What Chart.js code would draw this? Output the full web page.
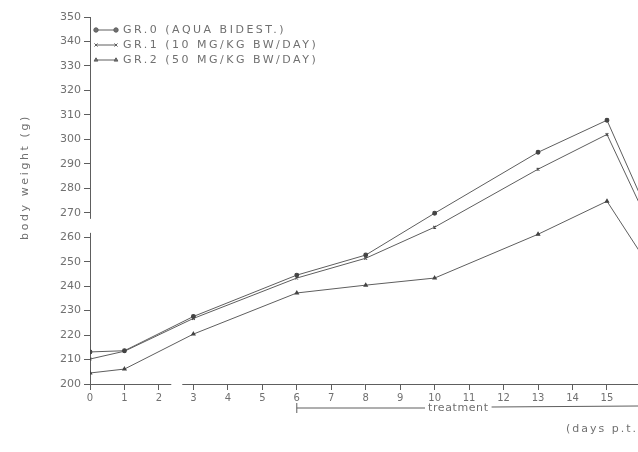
<!DOCTYPE html>
<html>
<head>
<meta charset="utf-8">
<script src="https://cdn.jsdelivr.net/npm/chart.js@4.4.1/dist/chart.umd.min.js"></script>
<style>
  html, body { margin: 0; padding: 0; background: #fff; }
  #wrap { width: 638px; height: 452px; position: relative; }
  canvas { filter: blur(0.35px); }
</style>
</head>
<body>
<div id="wrap"><canvas id="c" width="638" height="452"></canvas></div>
<script>
// Days after start of the experiment
const days = [0, 1, 3, 6, 8, 10, 13, 15, 16];

// Mean body weight (g) per group
const gr0 = [213.1, 213.6, 227.6, 244.5, 252.7, 269.8, 294.7, 307.8, 276];
const gr1 = [210.2, 213.4, 226.8, 243.3, 251.4, 264.1, 287.8, 302.0, 272];
const gr2 = [204.5, 206.1, 220.4, 237.2, 240.4, 243.3, 261.2, 274.7, 253];

const seriesLabels = [
  'GR.0 (AQUA BIDEST.)',
  'GR.1 (10 MG/KG BW/DAY)',
  'GR.2 (50 MG/KG BW/DAY)'
];
const seriesSymbols = ['circle', 'crossRot', 'triangle'];

const xTicks = [0, 1, 2, 3, 4, 5, 6, 7, 8, 9, 10, 11, 12, 13, 14, 15];
const yTicks = [200, 210, 220, 230, 240, 250, 260, 270, 280, 290, 300, 310, 320, 330, 340, 350];

const yTitle = 'body weight (g)';
const treatmentLabel = 'treatment';
const treatmentStart = 6;
const xUnitLabel = '(days p.t.)';

const INK = '#707070';
const LINE = '#5e5e5e';
const FONT = '"DejaVu Sans", sans-serif';

function toXY(ys) { return days.map((d, i) => ({ x: d, y: ys[i] })); }

function ds(label, ys, symbol) {
  return {
    label, data: toXY(ys),
    borderColor: LINE, borderWidth: 1,
    pointStyle: symbol, pointRadius: 1.9,
    pointBackgroundColor: '#444', pointBorderColor: '#444', pointBorderWidth: 1.1,
    tension: 0
  };
}

// Hand-drawn style extras: legend block, axis breaks, y title, treatment bar
const extras = {
  id: 'extras',
  afterDraw(chart) {
    const ctx = chart.ctx;
    const xs = chart.scales.x, ys = chart.scales.y;
    ctx.save();

    // axis breaks
    ctx.fillStyle = '#fff';
    ctx.fillRect(xs.left - 4, ys.getPixelForValue(267.5), 8, 14);
    ctx.fillRect(xs.getPixelForValue(2.3) + 2, ys.bottom - 4, 11, 8);

    ctx.fillStyle = INK;
    ctx.strokeStyle = LINE;
    ctx.lineWidth = 1;
    ctx.letterSpacing = '2.5px';
    ctx.font = '11px ' + FONT;
    ctx.textBaseline = 'middle';
    ctx.textAlign = 'left';

    // legend
    const ly = [30, 45, 60];
    seriesLabels.forEach((t, i) => {
      const y = ly[i];
      ctx.beginPath();
      ctx.moveTo(96, y); ctx.lineTo(116, y); ctx.stroke();
      [96, 116].forEach(px => {
        Chart.helpers.drawPoint(ctx, { pointStyle: seriesSymbols[i], radius: 2.2, borderWidth: 1 }, px, y);
      });
      ctx.fillText(t, 123, y);
    });

    // y title
    ctx.save();
    ctx.translate(25, 177);
    ctx.rotate(-Math.PI / 2);
    ctx.textAlign = 'center';
    ctx.font = '11px ' + FONT;
    ctx.letterSpacing = '2.6px';
    ctx.fillText(yTitle, 0, 0);
    ctx.restore();

    // treatment bar
    const by = 408;
    const x0 = xs.getPixelForValue(treatmentStart);
    ctx.font = '11px ' + FONT;
    ctx.letterSpacing = '0.6px';
    const tw = ctx.measureText(treatmentLabel).width;
    const tx = 428;
    ctx.beginPath();
    ctx.moveTo(x0, by - 5); ctx.lineTo(x0, by + 5);
    ctx.moveTo(x0, by); ctx.lineTo(tx - 3, by);
    ctx.moveTo(tx + tw + 3, by - 1); ctx.lineTo(638, by - 2);
    ctx.stroke();
    ctx.fillText(treatmentLabel, tx, by);

    ctx.letterSpacing = '2px';
    ctx.fillText(xUnitLabel, 566, 429);
    ctx.restore();
  }
};

new Chart(document.getElementById('c'), {
  type: 'line',
  data: {
    datasets: [
      ds(seriesLabels[0], gr0, seriesSymbols[0]),
      ds(seriesLabels[1], gr1, seriesSymbols[1]),
      ds(seriesLabels[2], gr2, seriesSymbols[2])
    ]
  },
  options: {
    responsive: false,
    animation: false,
    events: [],
    layout: { autoPadding: false, padding: { top: 17, right: 0, left: 0, bottom: 0 } },
    plugins: { legend: { display: false }, tooltip: { enabled: false } },
    scales: {
      x: {
        type: 'linear', min: 0, max: 15.9,
        afterBuildTicks: s => { s.ticks = xTicks.map(v => ({ value: v })); },
        afterFit: s => { s.height = 68; },
        grid: { display: true, drawOnChartArea: false, tickLength: 6, color: LINE },
        border: { display: true, color: LINE, width: 1 },
        ticks: { color: INK, font: { family: FONT, size: 10 }, padding: 2, maxRotation: 0, autoSkip: false }
      },
      y: {
        type: 'linear', min: 200, max: 350,
        afterBuildTicks: s => { s.ticks = yTicks.map(v => ({ value: v })); },
        afterFit: s => { s.width = 90; },
        grid: { display: true, drawOnChartArea: false, tickLength: 6, color: LINE },
        border: { display: true, color: LINE, width: 1 },
        ticks: { color: INK, font: { family: FONT, size: 11 }, padding: 3, autoSkip: false }
      }
    }
  },
  plugins: [extras]
});
</script>
</body>
</html>
